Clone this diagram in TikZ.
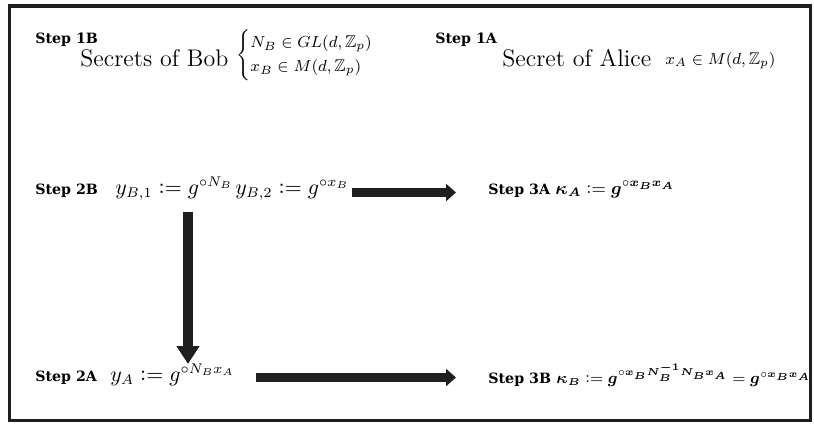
\documentclass[tikz,border=0pt]{standalone}
\usepackage{amsmath,amssymb,bm}
\usepackage{fontspec}
\newfontfamily\stepfamily{DejaVu Serif}
\usetikzlibrary{arrows.meta}
\newcommand\stepfnt{\stepfamily\bfseries\fontsize{7.1}{9}\selectfont}
\newcommand\defeq{\mathrel{\mathop:}=}
\tikzset{
  steplabel/.style={anchor=base west, inner sep=0pt, font=\stepfnt},
  bigtext/.style={anchor=base west, inner sep=0pt, font=\fontsize{12}{14}\selectfont},
  mathsmall/.style={anchor=base west, inner sep=0pt, font=\fontsize{8.5}{10}\selectfont},
  mathmid/.style={anchor=base west, inner sep=0pt, font=\fontsize{10.5}{12}\selectfont},
  mathbold/.style={anchor=base west, inner sep=0pt, font=\fontsize{8.9}{11}\selectfont},
  mathboldlong/.style={anchor=base west, inner sep=0pt, font=\fontsize{7.6}{10}\selectfont},
  fatarrow/.style={draw=black!88, line width=4.5pt, -{Triangle[length=5pt,width=8.5pt]}},
  fatvarrow/.style={draw=black!88, line width=5pt, -{Triangle[length=9pt,width=11pt]}},
}
\begin{document}
\begin{tikzpicture}[x=0.5pt,y=-0.5pt]
\useasboundingbox (0,0) rectangle (814,424);
\draw[black!88, line width=1.6pt] (9.5,6) rectangle (810.5,420.5);

% row 1
\node[steplabel] (s1b) at (35,43) {Step 1B};
\node[bigtext] (bob) at (80,66) {Secrets of Bob};
\node[mathsmall, anchor=west] (bobsec) at (236,55) {$\begin{cases} N_B \in GL(d,\mathbb{Z}_p)\\ x_B \in M(d,\mathbb{Z}_p)\end{cases}$};
\node[steplabel] (s1a) at (435,43) {Step 1A};
\node[bigtext] (alice) at (502,66) {Secret of Alice};
\node[mathsmall] (alicesec) at (665,64) {$x_A \in M(d,\mathbb{Z}_p)$};

% row 2
\node[steplabel] (s2b) at (35,194) {Step 2B};
\node[mathmid] (yb1) at (115,194) {$y_{B,1} \defeq g^{\circ N_B}$};
\node[mathmid] (yb2) at (235,194) {$y_{B,2} \defeq g^{\circ x_B}$};
\node[steplabel] (s3a) at (488,194) {Step 3A};
\node[mathbold] (ka) at (555,194) {$\bm{\kappa}_{\bm{A}} \defeq \bm{g}^{\circ \bm{x}_{\bm{B}}\bm{x}_{\bm{A}}}$};

% row 3
\node[steplabel] (s2a) at (35,381) {Step 2A};
\node[mathmid] (ya) at (110,381) {$y_A \defeq g^{\circ N_B x_A}$};
\node[steplabel] (s3b) at (488,383) {Step 3B};
\node[mathboldlong] (kb) at (556,383) {$\bm{\kappa}_{\bm{B}} \defeq \bm{g}^{\circ \bm{x}_{\bm{B}} \bm{N}_{\bm{B}}^{\bm{-1}} \bm{N}_{\bm{B}} \bm{x}_{\bm{A}}} = \bm{g}^{\circ \bm{x}_{\bm{B}}\bm{x}_{\bm{A}}}$};

% connectors
\coordinate (a1s) at (352,192.5);
\coordinate (a1e) at (456,192.5);
\coordinate (a2s) at (256,377.5);
\coordinate (a2e) at (456,377.5);
\coordinate (a3s) at (188,212);
\coordinate (a3e) at (188,364);
\draw[fatarrow] (a1s) -- (a1e);
\draw[fatarrow] (a2s) -- (a2e);
\draw[fatvarrow] (a3s) -- (a3e);
\end{tikzpicture}
\end{document}
